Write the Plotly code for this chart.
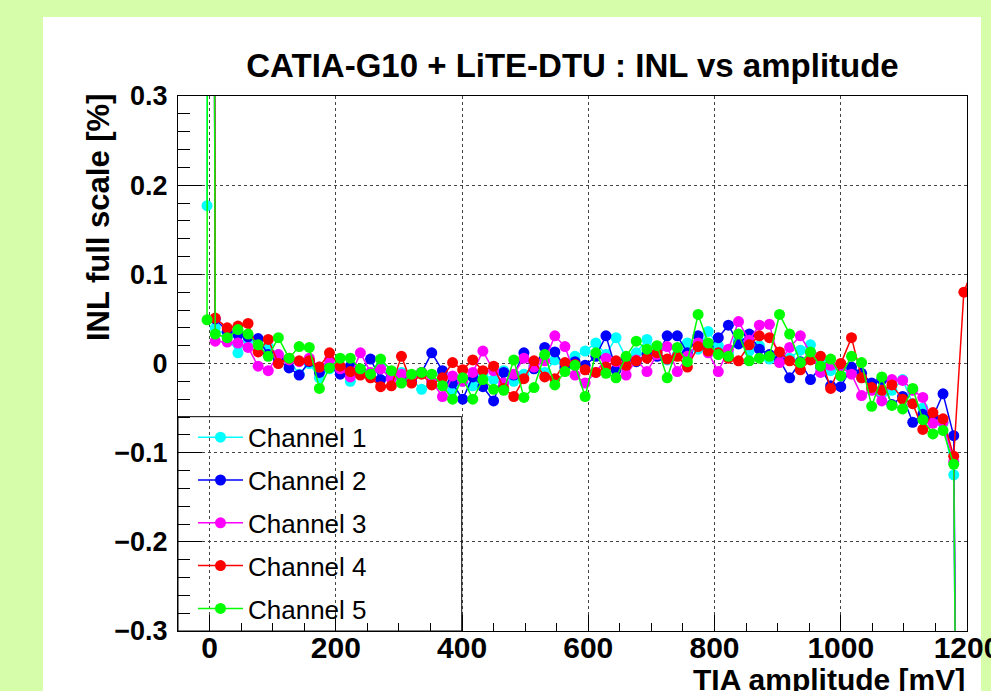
import plotly.graph_objects as go

# TIA amplitude points of the scan [mV] (shared by all channels)
amplitude = [-4, 0, 9, 28, 45, 61, 77, 93, 109, 126, 142, 158, 174, 190, 207, 223,
             239, 255, 271, 288, 304, 320, 336, 352, 369, 385, 401, 417, 433, 450,
             466, 482, 498, 514, 531, 547, 563, 579, 595, 612, 628, 644, 660, 676,
             693, 709, 725, 741, 757, 774, 790, 806, 822, 838, 855, 871, 887, 903,
             919, 936, 952, 968, 984, 1000, 1017, 1033, 1049, 1065, 1081, 1098, 1114,
             1130, 1146, 1162, 1179, 1195, 1211]

# INL in % of full scale, one list per channel
inl_ch1 = [0.177, 2.5, 0.040, 0.030, 0.012, 0.026, 0.020, 0.019, 0.010, 0.004, -0.012,
           0.000, -0.016, -0.006, -0.004, -0.020, -0.008, -0.012, -0.004, -0.016, -0.010,
           -0.018, -0.029, -0.022, -0.014, -0.030, -0.020, -0.025, -0.012, -0.018, -0.008,
           -0.020, -0.012, -0.002, -0.010, 0.004, -0.006, 0.008, 0.014, 0.023, 0.010,
           0.029, 0.006, 0.012, 0.027, 0.014, 0.004, 0.010, 0.023, 0.016, 0.036, 0.020,
           0.012, 0.026, 0.014, 0.020, 0.005, 0.010, 0.006, 0.015, 0.021, 0.004, -0.008,
           -0.014, -0.006, -0.016, -0.028, -0.034, -0.030, -0.018, -0.045, -0.050, -0.058,
           -0.067, -0.125, -3.0, -3.0]
inl_ch2 = [2.0, 2.5, 0.050, 0.036, 0.032, 0.030, 0.028, 0.010, 0.004, -0.005, -0.013,
           0.002, -0.010, -0.004, -0.012, -0.003, -0.008, 0.005, -0.018, -0.012, -0.015,
           -0.020, -0.010, 0.012, -0.008, -0.022, -0.040, -0.015, -0.026, -0.042, -0.010,
           -0.013, 0.012, -0.006, 0.018, 0.013, -0.004, 0.002, -0.002, 0.008, 0.031,
           -0.007, 0.006, 0.002, 0.010, 0.008, 0.031, 0.031, 0.012, 0.031, 0.018, 0.029,
           0.043, 0.022, 0.033, 0.016, 0.010, 0.004, -0.016, 0.002, -0.018, -0.004, -0.025,
           -0.026, -0.004, -0.011, -0.022, -0.018, -0.046, -0.037, -0.066, -0.057, -0.060,
           -0.034, -0.081, -3.0, -3.0]
inl_ch3 = [2.0, 2.5, 0.025, 0.024, 0.023, 0.018, -0.003, -0.008, 0.010, 0.004, 0.002,
           0.006, -0.004, 0.004, -0.006, -0.015, 0.012, -0.010, -0.006, -0.017, -0.012,
           -0.016, -0.010, -0.020, -0.037, -0.014, -0.020, -0.010, 0.014, -0.008, -0.022,
           -0.012, 0.006, -0.004, 0.003, 0.031, 0.019, -0.013, -0.022, -0.010, 0.006,
           0.002, -0.013, 0.004, -0.009, 0.010, 0.019, -0.009, 0.008, 0.023, 0.012, -0.009,
           0.016, 0.047, 0.026, 0.043, 0.044, 0.001, 0.018, 0.031, 0.012, -0.010, -0.002,
           -0.004, -0.012, -0.036, -0.030, -0.042, -0.018, -0.019, -0.030, -0.038, -0.067,
           -0.066, -0.110, -3.0, -3.0]
inl_ch4 = [2.0, 2.5, 0.051, 0.040, 0.042, 0.045, 0.013, 0.027, 0.000, 0.006, 0.003,
           0.003, -0.004, 0.012, -0.003, -0.009, -0.013, -0.016, -0.026, -0.025, 0.008,
           -0.022, -0.012, -0.024, -0.016, 0.001, -0.007, 0.004, -0.008, -0.003, -0.028,
           -0.037, -0.017, 0.003, -0.015, -0.017, 0.001, -0.001, -0.007, -0.010, -0.004,
           0.003, -0.002, 0.003, 0.006, 0.012, 0.005, 0.008, -0.004, 0.019, 0.014, 0.012,
           0.006, 0.003, 0.021, 0.031, 0.029, 0.013, 0.003, -0.007, 0.004, 0.008, -0.028,
           0.000, 0.029, -0.016, -0.027, -0.030, -0.024, -0.040, -0.045, -0.074, -0.055,
           -0.062, -0.104, 0.080, 0.110]
inl_ch5 = [0.049, 2.5, 0.033, 0.029, 0.038, 0.033, 0.021, 0.008, 0.029, 0.006, 0.019,
           0.018, -0.028, -0.005, 0.006, 0.006, -0.006, -0.012, 0.005, -0.008, -0.022,
           -0.012, -0.010, -0.012, -0.025, -0.040, -0.016, -0.040, -0.018, -0.029, -0.030,
           0.004, -0.038, -0.027, 0.010, -0.024, -0.009, -0.002, -0.037, 0.012, -0.011,
           -0.016, 0.008, 0.025, 0.016, 0.020, -0.016, 0.018, 0.002, 0.055, 0.023, 0.010,
           0.008, 0.033, 0.003, 0.006, 0.008, 0.055, 0.033, 0.001, 0.013, -0.003, 0.005,
           -0.014, 0.008, 0.001, -0.048, -0.015, -0.047, -0.051, -0.028, -0.063, -0.079,
           -0.075, -0.113, -3.0, -3.0]

channel_names = ["Channel 1", "Channel 2", "Channel 3", "Channel 4", "Channel 5"]
channel_colors = ["#00ffff", "#0000ff", "#ff00ff", "#ff0000", "#00ff00"]
channel_values = [inl_ch1, inl_ch2, inl_ch3, inl_ch4, inl_ch5]

FONT = "Liberation Sans"

fig = go.Figure()
for name, color, values in zip(channel_names, channel_colors, channel_values):
    fig.add_trace(go.Scatter(
        x=amplitude, y=values, name=name, legendgroup=name,
        mode="lines+markers",
        line=dict(color=color, width=1.5),
        marker=dict(color=color, size=11, symbol="circle"),
    ))

axis_common = dict(
    showline=True, mirror=True, linecolor="black", linewidth=1,
    ticks="inside", tickcolor="black", tickwidth=1,
    showgrid=True, gridcolor="#444444", gridwidth=1, griddash="dot",
    zeroline=False, automargin=False,
)

fig.update_xaxes(
    range=[-50, 1200], tick0=0, dtick=200, ticklen=16,
    tickfont=dict(family=FONT, size=30, color="black", weight="bold"),
    ticklabelstandoff=-10, ticklabeloverflow="allow",
    minor=dict(dtick=50, tick0=0, ticklen=8, ticks="inside", tickcolor="black", showgrid=False),
    **axis_common,
)
fig.update_yaxes(
    range=[-0.3, 0.3], tick0=0, dtick=0.1, ticklen=24,
    tickfont=dict(family=FONT, size=27, color="black", weight="bold"),
    ticklabelstandoff=4,
    minor=dict(dtick=0.02, tick0=0, ticklen=12, ticks="inside", tickcolor="black", showgrid=False),
    **axis_common,
)

fig.update_layout(
    width=991, height=691,
    margin=dict(l=178, r=24, t=96, b=60, autoexpand=False),
    paper_bgcolor="#d5fdaa",
    plot_bgcolor="white",
    title=dict(
        text="<b>CATIA-G10 + LiTE-DTU : INL vs amplitude</b>",
        font=dict(family=FONT, size=33, color="black"),
        x=0.5, xref="paper", xanchor="center",
        y=1 - 65 / 691, yref="container", yanchor="middle",
    ),
    showlegend=True,
    legend=dict(
        x=0.019, xanchor="left", y=0.406, yanchor="top",
        bgcolor="rgba(0,0,0,0)", borderwidth=0,
        font=dict(family=FONT, size=26, color="black"),
        itemwidth=45, tracegroupgap=6,
    ),
    shapes=[
        # white canvas panel
        dict(type="rect", xref="paper", yref="paper", x0=-0.1711, x1=1.0177,
             y0=-0.2, y1=1.1477, fillcolor="white", line=dict(width=0), layer="below"),
        # legend frame
        dict(type="rect", xref="paper", yref="paper", x0=0, x1=0.3596,
             y0=0, y1=0.4006, fillcolor="rgba(0,0,0,0)",
             line=dict(color="black", width=1), layer="above"),
    ],
    annotations=[
        dict(text="<b>INL full scale [%]</b>", textangle=-90,
             xref="paper", yref="paper", x=(98 - 178) / 789, y=(631 - 217) / 535,
             xanchor="center", yanchor="middle", showarrow=False,
             font=dict(family=FONT, size=31, color="black")),
        dict(text="<b>TIA amplitude [mV]</b>",
             xref="paper", yref="paper", x=1.0, y=(631 - 661) / 535,
             xanchor="right", yanchor="top", showarrow=False,
             font=dict(family=FONT, size=30, color="black")),
    ],
)

fig.write_html("out.html")
